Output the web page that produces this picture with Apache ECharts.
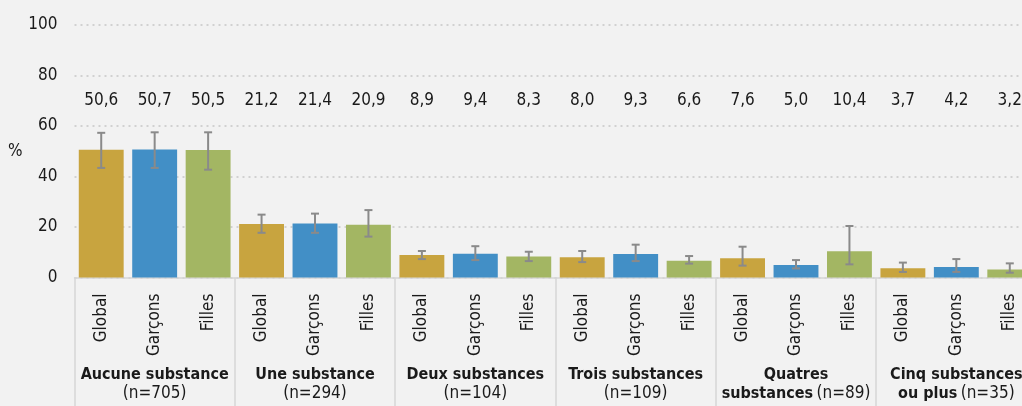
<!DOCTYPE html>
<html>
<head>
<meta charset="utf-8">
<script src="https://cdn.jsdelivr.net/npm/echarts@6/dist/echarts.min.js"></script>
<style>
html,body{margin:0;padding:0;background:#f2f2f2;}
#chart{width:1022px;height:406px;}
</style>
</head>
<body>
<div id="chart"></div>
<script>
// ---- data ----
const groupNames = ['Aucune substance', 'Une substance', 'Deux substances', 'Trois substances', 'Quatres\nsubstances', 'Cinq substances\nou plus'];
const groupN = [705, 294, 104, 109, 89, 35];
const subgroups = ['Global', 'Garçons', 'Filles'];
const globalVals  = [50.6, 21.2, 8.9, 8.0, 7.6, 3.7];
const garconsVals = [50.7, 21.4, 9.4, 9.3, 5.0, 4.2];
const fillesVals  = [50.5, 20.9, 8.3, 6.6, 10.4, 3.2];
const globalLow   = [43.4, 17.7, 7.3, 6.1, 4.7, 2.2];
const globalHigh  = [57.3, 24.9, 10.5, 10.5, 12.2, 5.9];
const garconsLow  = [43.4, 17.7, 6.9, 6.5, 3.6, 2.2];
const garconsHigh = [57.5, 25.3, 12.4, 13.0, 6.9, 7.3];
const fillesLow   = [42.7, 16.2, 6.5, 5.5, 5.2, 1.9];
const fillesHigh  = [57.5, 26.7, 10.2, 8.5, 20.4, 5.6];
const yTicks = [0, 20, 40, 60, 80, 100];

// ---- styles ----
const FONT = "'Liberation Sans Narrow', 'DejaVu Sans Condensed', 'Roboto', sans-serif";
const colors = ['#c8a43f', '#428fc6', '#a3b663'];
const TXT = '#1a1a1a';
const LABEL_ROW = 70;
const FS = 17;

const vals = [globalVals, garconsVals, fillesVals];
const lows = [globalLow, garconsLow, fillesLow];
const highs = [globalHigh, garconsHigh, fillesHigh];

const cats = [], barData = [], errData = [], labelData = [];
groupNames.forEach((g, gi) => {
  subgroups.forEach((s, si) => {
    const idx = cats.length;
    cats.push(s);
    barData.push({ value: vals[si][gi], itemStyle: { color: colors[si] } });
    errData.push([idx, lows[si][gi], highs[si][gi]]);
    labelData.push([idx, vals[si][gi]]);
  });
});
const fmt = v => v.toFixed(1).replace('.', ',');

const chart = echarts.init(document.getElementById('chart'), null, { renderer: 'canvas' });
chart.setOption({
  backgroundColor: '#f2f2f2',
  animation: false,
  textStyle: { fontFamily: FONT },
  grid: { left: 74.5, top: 25, width: 962, height: 252.5, containLabel: false, outerBoundsMode: 'none' },
  xAxis: [{
    type: 'category', data: cats, position: 'bottom', offset: 0,
    axisLine: { show: false }, axisTick: { show: false },
    axisLabel: { rotate: 90, margin: 16, fontSize: FS, color: TXT, fontFamily: FONT, interval: 0 }
  }, {
    type: 'category', data: groupNames, position: 'bottom', offset: 0,
    axisLine: { show: true, lineStyle: { color: '#d6d6d6', width: 1.5 } },
    axisTick: { show: true, length: 130, lineStyle: { color: '#d6d6d6', width: 1.5 } },
    axisLabel: {
      interval: 0, margin: 88, color: TXT, fontFamily: FONT,
      formatter: (name, i) => {
        const lines = name.split('\n');
        const n = '{n|(n=' + groupN[i] + ')}';
        if (lines.length === 1) return '{b|' + lines[0] + '}\n' + n;
        return '{b|' + lines[0] + '}\n{b|' + lines[1] + '} ' + n;
      },
      rich: {
        b: { fontSize: 16, fontWeight: 'bold', color: TXT, fontFamily: FONT, lineHeight: 19 },
        n: { fontSize: FS, color: TXT, fontFamily: FONT, lineHeight: 19 }
      }
    }
  }],
  yAxis: {
    type: 'value', min: 0, max: 100, interval: 20,
    name: '%', nameLocation: 'middle', nameRotate: 0, nameGap: 50,
    nameTextStyle: { fontSize: FS, color: TXT, fontFamily: FONT, padding: [4, 0, 0, 0] },
    axisLine: { show: false }, axisTick: { show: false },
    axisLabel: { margin: 17, fontSize: FS, color: TXT, fontFamily: FONT,
      formatter: v => yTicks.indexOf(v) >= 0 ? String(v) : '' },
    splitLine: { show: true, lineStyle: { color: '#c6c6c6', width: 1.5, type: [2, 4] } }
  },
  series: [{
    type: 'bar', xAxisIndex: 0, data: barData, barWidth: '84%'
  }, {
    type: 'custom', xAxisIndex: 0, data: errData, z: 5,
    renderItem: (params, api) => {
      const x = api.coord([api.value(0), 0])[0];
      const lo = api.coord([api.value(0), api.value(1)])[1];
      const hi = api.coord([api.value(0), api.value(2)])[1];
      const st = { stroke: '#8a8a8a', lineWidth: 2 };
      return { type: 'group', children: [
        { type: 'line', shape: { x1: x, y1: lo, x2: x, y2: hi }, style: st },
        { type: 'line', shape: { x1: x - 4, y1: lo, x2: x + 4, y2: lo }, style: st },
        { type: 'line', shape: { x1: x - 4, y1: hi, x2: x + 4, y2: hi }, style: st }
      ]};
    }
  }, {
    type: 'custom', xAxisIndex: 0, data: labelData, z: 6,
    renderItem: (params, api) => {
      const p = api.coord([api.value(0), LABEL_ROW]);
      return { type: 'text', x: p[0], y: p[1], style: {
        text: fmt(api.value(1)), font: FS + 'px ' + FONT, fill: TXT,
        align: 'center', verticalAlign: 'middle' } };
    }
  }]
});
</script>
</body>
</html>
